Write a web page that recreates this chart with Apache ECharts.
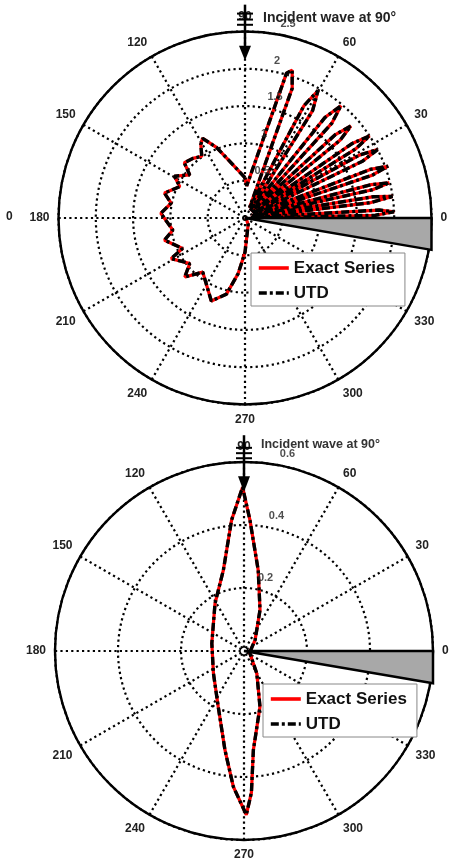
<!DOCTYPE html>
<html><head><meta charset="utf-8">
<script src="https://cdn.jsdelivr.net/npm/echarts@6/dist/echarts.min.js"></script>
<style>html,body{margin:0;padding:0;background:#fff}#c{width:449px;height:865px}</style>
</head><body><div id="c"></div>
<script>
// ---------- data ----------
const seriesNames = ['Exact Series', 'UTD'];
const angleLabels = ['0','30','60','90','120','150','180','210','240','270','300','330'];

// Top chart (radius max 2.5)
const topRadiusTicks = [0.5, 1, 1.5, 2, 2.5];
const topRadiusLabels = ['0.5', '1', '1.5', '2', '2.5'];
const topFrontAngle = [0,1.2,2.4,3.4,5.3,7.0,8.3,9.4,11.0,12.5,13.7,14.8,16.8,18.6,19.9,21.2,23.6,25.8,27.3,28.8,30.3,32.0,33.4,34.8,37.2,39.3,41.0,42.7,45.2,47.5,49.5,51.5,54.8,57.8,60.2,62.3,66.2,70.0,72.3,74.0,87.0,90.0];
const topFrontExact = [0.10,1.75,2.00,1.80,0.08,1.70,2.00,1.75,0.10,1.75,1.99,1.75,0.10,1.80,2.04,1.80,0.12,1.75,2.00,1.75,0.12,1.75,2.00,1.75,0.12,1.65,1.88,1.65,0.12,1.72,1.98,1.72,0.12,1.70,1.97,1.70,0.15,1.85,2.08,2.02,0.43,0.54];
const topFrontUTD   = [0.10,1.75,2.00,1.80,0.08,1.70,2.00,1.75,0.10,1.75,1.99,1.75,0.10,1.80,2.04,1.80,0.12,1.75,2.00,1.75,0.12,1.75,2.00,1.75,0.12,1.65,1.88,1.65,0.12,1.72,1.98,1.72,0.12,1.70,1.97,1.70,0.15,1.85,2.08,2.02,0.43,0.54];
const topBackAngle = [90,107,112,118,121,125,131,137.7,142,149.4,154.3,162.8,168.7,176.8,189.5,195.4,206,208.8,219.5,224.4,232,247.9,256.3,263,270,295,330,350];
const topBackExact = [0.54,0.84,1.02,1.21,1.15,1.01,1.06,1.10,0.94,1.10,0.97,1.13,1.01,1.13,0.98,1.12,0.93,1.13,0.96,1.13,0.92,1.20,1.05,0.75,0.46,0.10,0.02,0.0];
const topBackUTD   = [0.54,0.84,1.02,1.21,1.15,1.01,1.06,1.10,0.94,1.10,0.97,1.13,1.01,1.13,0.98,1.12,0.93,1.13,0.96,1.13,0.92,1.20,1.05,0.75,0.46,0.10,0.02,0.0];

// Bottom chart (radius max 0.6)
const botRadiusTicks = [0.2, 0.4, 0.6];
const botRadiusLabels = ['0.2', '0.4', '0.6'];
const botAngle = [0,45,68.7,80,87.4,90.5,95.4,104.3,121.3,166.6,216,245.2,259.1,265.5,270.8,273,275.4,286,299.7,339,360];
const botExact = [0.02,0.05,0.14,0.26,0.416,0.52,0.418,0.265,0.177,0.105,0.12,0.195,0.32,0.432,0.52,0.45,0.316,0.184,0.082,0.02,0.02];
const botUTD   = [0.02,0.05,0.14,0.26,0.416,0.52,0.418,0.265,0.177,0.105,0.12,0.195,0.32,0.432,0.52,0.45,0.316,0.184,0.082,0.02,0.02];

// Wedge (radius, angle) and incident arrow (radii along 90 deg)
const topWedgeR = [0, 2.5, 2.536], topWedgeA = [0, 0, 350.3];
const botWedgeR = [0, 0.6, 0.6087], botWedgeA = [0, 0, 350.3];
const topArrowR = [2.86, 2.74, 2.66, 2.59, 2.31, 2.11]; // top, hash1..3, head base, tip
const botArrowR = [0.685, 0.645, 0.628, 0.612, 0.555, 0.505];

// ---------- helpers ----------
const FONT = 'Liberation Sans, Arial, sans-serif';
const pairs = (r, a) => a.map((v, i) => [r[i], v]);
const DOT = { color: '#000', width: 2.2, type: [2.2, 3.2] };

function polarAxes(idx, maxR, interval) {
  return {
    angle: {
      polarIndex: idx, type: 'value', min: 0, max: 360, interval: 30,
      startAngle: 0, clockwise: false,
      axisLine: { show: true, lineStyle: { color: '#000', width: 2.4 } },
      axisTick: { show: false },
      splitLine: { show: true, lineStyle: DOT },
      axisLabel: { show: true, margin: 9, color: '#222', fontSize: 12, fontWeight: 'bold', fontFamily: FONT,
        formatter: v => angleLabels[Math.round(v / 30) % 12] }
    },
    radius: {
      polarIndex: idx, type: 'value', min: 0, max: maxR, interval: interval,
      axisLine: { show: false }, axisTick: { show: false }, axisLabel: { show: false },
      splitLine: { show: true, lineStyle: DOT }
    }
  };
}

function lineSeries(idx, name, r, a, isUTD) {
  return {
    type: 'line', name: name, coordinateSystem: 'polar', polarIndex: idx,
    data: pairs(r, a), symbol: 'none', smooth: false, silent: true,
    z: isUTD ? 3 : 2,
    lineStyle: isUTD ? { color: '#000', width: 3.4, type: [8, 3, 3, 3] } : { color: '#ff0000', width: 3.2 },
    itemStyle: { color: isUTD ? '#000' : '#ff0000' }
  };
}

function tickLabelSeries(idx, ticks, labels) {
  return {
    type: 'scatter', coordinateSystem: 'polar', polarIndex: idx, silent: true, z: 4,
    symbolSize: 0.01, data: ticks.map(t => [t, 80]),
    label: { show: true, position: [3, -5], align: 'left', verticalAlign: 'bottom',
      formatter: p => labels[p.dataIndex], color: '#222', fontSize: 11, fontWeight: 'bold', fontFamily: FONT }
  };
}

function decoSeries(idx, wR, wA, aR) {
  return {
    type: 'custom', coordinateSystem: 'polar', polarIndex: idx, silent: true, z: 5,
    data: [[0, 0]],
    renderItem: function (params, api) {
      const w = wR.map((r, i) => api.coord([r, wA[i]]));
      const pts = aR.map(r => api.coord([r, 90]));
      const x = pts[0][0];
      const children = [
        { type: 'polygon', shape: { points: w }, style: { fill: '#a8a8a8', stroke: '#000', lineWidth: 2.5, lineJoin: 'miter' } },
        { type: 'line', shape: { x1: x, y1: pts[0][1], x2: x, y2: pts[4][1] + 2 }, style: { stroke: '#000', lineWidth: 2.5 } },
        { type: 'polygon', shape: { points: [[x, pts[5][1]], [x - 6, pts[4][1]], [x + 6, pts[4][1]]] }, style: { fill: '#000' } }
      ];
      for (let k = 1; k <= 3; k++) {
        children.push({ type: 'line', shape: { x1: x - 8, y1: pts[k][1], x2: x + 8, y2: pts[k][1] }, style: { stroke: '#000', lineWidth: 2 } });
      }
      return { type: 'group', children: children };
    }
  };
}

const ax0 = polarAxes(0, 2.5, 0.5);
const ax1 = polarAxes(1, 0.6, 0.2);

const legendBase = {
  orient: 'vertical', data: seriesNames, itemWidth: 30, itemHeight: 12, itemGap: 7,
  padding: [6, 10, 4, 6], borderColor: '#888', borderWidth: 1, backgroundColor: '#fff',
  selectedMode: false,
  itemStyle: { color: 'rgba(0,0,0,0)', borderWidth: 0, opacity: 0 },
  lineStyle: { width: 3.6 },
  textStyle: { fontSize: 17, fontWeight: 'bold', color: '#111', fontFamily: FONT, lineHeight: 18 }
};

const option = {
  backgroundColor: '#fff',
  animation: false,
  polar: [
    { center: [245, 218], radius: 186.5 },
    { center: [244, 651], radius: 189 }
  ],
  angleAxis: [ax0.angle, ax1.angle],
  radiusAxis: [ax0.radius, ax1.radius],
  legend: [
    Object.assign({}, legendBase, { left: 251, top: 253 }),
    Object.assign({}, legendBase, { left: 263, top: 684 })
  ],
  title: [
    { text: 'Incident wave at 90°', left: 258, top: 6, textStyle: { fontSize: 14, fontWeight: 'bold', color: '#222', fontFamily: FONT } },
    { text: 'Incident wave at 90°', left: 256, top: 433, textStyle: { fontSize: 12.5, fontWeight: 'bold', color: '#333', fontFamily: FONT } }
  ],
  graphic: [
    { type: 'text', left: 6, top: 211, style: { text: '0', fill: '#222', font: 'bold 12px ' + FONT } }
  ],
  series: [
    lineSeries(0, 'Exact Series', topFrontExact, topFrontAngle, false),
    lineSeries(0, 'Exact Series', topBackExact, topBackAngle, false),
    lineSeries(0, 'UTD', topFrontUTD, topFrontAngle, true),
    lineSeries(0, 'UTD', topBackUTD, topBackAngle, true),
    lineSeries(1, 'Exact Series', botExact, botAngle, false),
    lineSeries(1, 'UTD', botUTD, botAngle, true),
    tickLabelSeries(0, topRadiusTicks, topRadiusLabels),
    tickLabelSeries(1, botRadiusTicks, botRadiusLabels),
    decoSeries(0, topWedgeR, topWedgeA, topArrowR),
    decoSeries(1, botWedgeR, botWedgeA, botArrowR)
  ]
};

const chart = echarts.init(document.getElementById('c'), null, { renderer: 'canvas' });
chart.setOption(option);
</script>
</body></html>
